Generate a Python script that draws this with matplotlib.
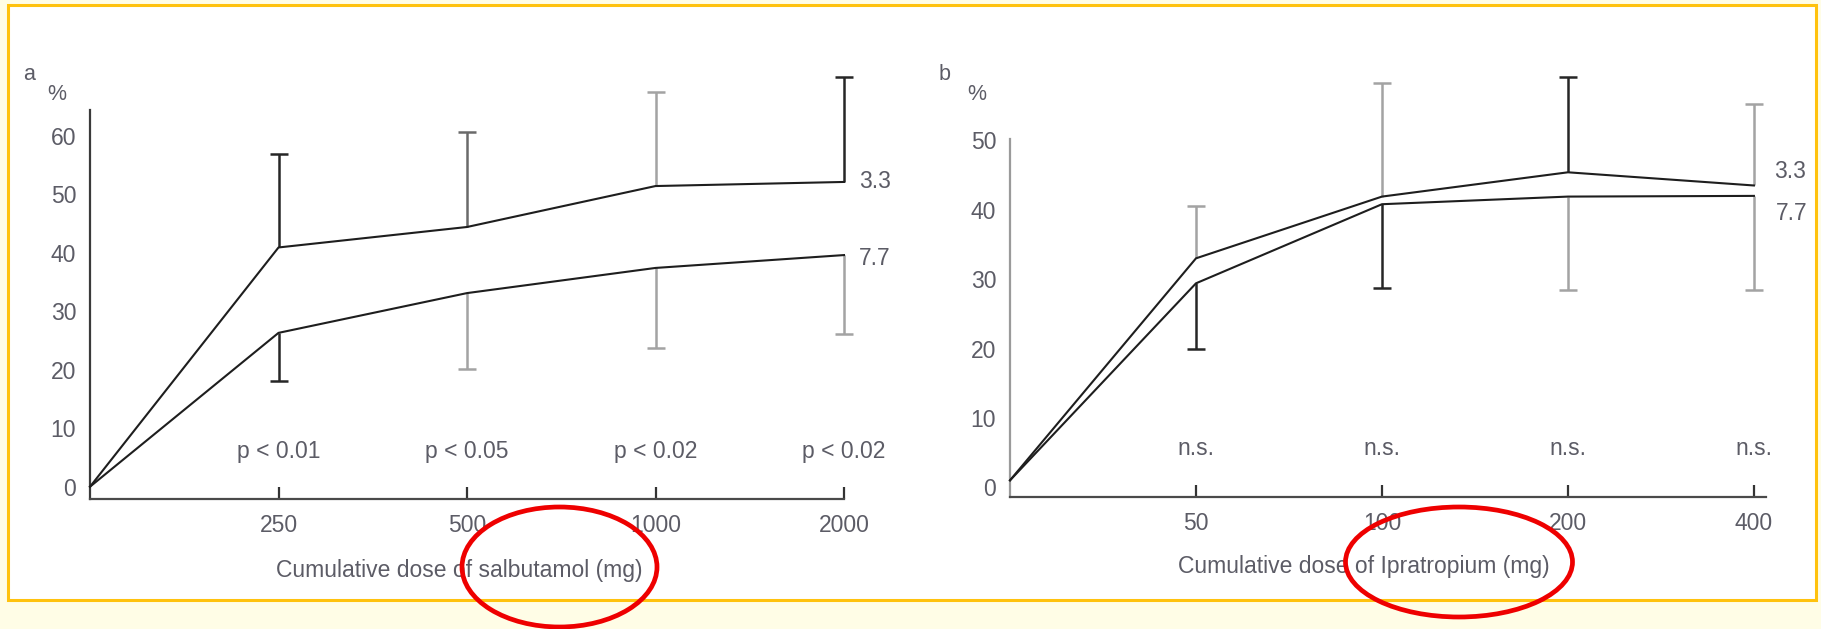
import matplotlib
matplotlib.use("Agg")
import matplotlib.pyplot as plt
from matplotlib.patches import Rectangle, Ellipse

# ---------------- data ----------------
a_dose_labels = ["250", "500", "1000", "2000"]
a_upper = [0.0, 40.9, 44.4, 51.4, 52.1]          # series "3.3"
a_upper_sd = [15.9, 16.3, 16.0, 17.9]
a_lower = [0.0, 26.3, 33.1, 37.4, 39.6]          # series "7.7"
a_lower_sd = [8.3, 13.0, 13.7, 13.5]
a_pvalues = ["p < 0.01", "p < 0.05", "p < 0.02", "p < 0.02"]
a_yticks = [0, 10, 20, 30, 40, 50, 60]

b_dose_labels = ["50", "100", "200", "400"]
b_upper = [1.0, 33.0, 41.9, 45.4, 43.5]          # series "3.3"
b_upper_sd = [7.6, 16.4, 13.7, 11.8]
b_lower = [1.0, 29.4, 40.8, 41.9, 42.0]          # series "7.7"
b_lower_sd = [9.4, 12.1, 13.5, 13.6]
b_pvalues = ["n.s.", "n.s.", "n.s.", "n.s."]
b_yticks = [0, 10, 20, 30, 40, 50]

series_names = ["3.3", "7.7"]

# error bar shades (as in the figure)
DARK = "#262626"
MID = "#6a6a6a"
LIGHT = "#a3a3a3"
a_upper_colors = [DARK, MID, LIGHT, DARK]
a_lower_colors = [DARK, LIGHT, LIGHT, LIGHT]
b_upper_colors = [LIGHT, LIGHT, DARK, LIGHT]
b_lower_colors = [DARK, DARK, LIGHT, LIGHT]

# ---------------- figure ----------------
W, H = 1821, 629
fig = plt.figure(figsize=(W / 100, H / 100), dpi=100)
fig.patch.set_facecolor("#FFFDE6")

plt.rcParams["font.family"] = ["Liberation Sans", "DejaVu Sans"]
TXT = "#5c5c66"
FS = 16.5

# white box with orange border
fig.add_artist(Rectangle((8 / W, 1 - 600 / H), (1816 - 8) / W, (600 - 5) / H,
                         transform=fig.transFigure, facecolor="white",
                         edgecolor="#FFC20E", linewidth=2.2, zorder=-1))


def px2fig(x, y):
    return x / W, 1 - y / H


def make_panel(rect, ylim, xright, yticks, labels, upper, upper_sd, lower, lower_sd,
               up_cols, lo_cols, pvals, pval_y, name_pos, yspine_color):
    left, top, right, bottom = rect
    ax = fig.add_axes([left / W, 1 - bottom / H, (right - left) / W, (bottom - top) / H])
    ax.set_facecolor("none")
    x = list(range(len(upper)))
    ax.set_xlim(0, xright)
    ax.set_ylim(*ylim)
    for s in ["top", "right"]:
        ax.spines[s].set_visible(False)
    ax.spines["left"].set_color(yspine_color)
    ax.spines["left"].set_linewidth(1.6)
    ax.spines["bottom"].set_color("#4a4a4a")
    ax.spines["bottom"].set_linewidth(1.6)

    # error bars: stem from the mean, cap only at the far end
    for i in range(1, len(x)):
        top_end = upper[i] + upper_sd[i - 1]
        bot_end = lower[i] - lower_sd[i - 1]
        c1, c2 = up_cols[i - 1], lo_cols[i - 1]
        ax.vlines(x[i], upper[i], top_end, colors=c1, lw=1.8, clip_on=False, zorder=2)
        ax.plot([x[i]], [top_end], marker="_", ms=13, mew=1.8, color=c1,
                clip_on=False, zorder=2)
        ax.vlines(x[i], bot_end, lower[i], colors=c2, lw=1.8, clip_on=False, zorder=2)
        ax.plot([x[i]], [bot_end], marker="_", ms=13, mew=1.8, color=c2,
                clip_on=False, zorder=2)
    # lines
    ax.plot(x, upper, color="#1e1e1e", lw=1.5, clip_on=False, zorder=3)
    ax.plot(x, lower, color="#1e1e1e", lw=1.5, clip_on=False, zorder=3)

    ax.set_xticks(x[1:])
    ax.set_xticklabels(labels)
    ax.tick_params(axis="x", direction="in", length=8.5, width=1.6, color="#333333",
                   pad=11, labelsize=FS, labelcolor=TXT)
    ax.set_yticks(yticks)
    ax.tick_params(axis="y", length=0, pad=10, labelsize=FS, labelcolor=TXT)

    for i, t in enumerate(pvals):
        ax.text(x[i + 1], pval_y, t, ha="center", va="center", fontsize=FS, color=TXT)
    for (xx, yy), nm in zip(name_pos, series_names):
        ax.text(xx, yy, nm, ha="left", va="center", fontsize=FS, color=TXT)
    return ax


make_panel((90, 110, 844, 499), (-2.1, 64.4), 4.0, a_yticks, a_dose_labels,
           a_upper, a_upper_sd, a_lower, a_lower_sd, a_upper_colors, a_lower_colors,
           a_pvalues, 6.0, [(4.08, 52.2), (4.08, 39.0)], "#3a3a3a")
make_panel((1010, 139, 1766, 497), (-1.4, 50.2), 4.065, b_yticks, b_dose_labels,
           b_upper, b_upper_sd, b_lower, b_lower_sd, b_upper_colors, b_lower_colors,
           b_pvalues, 5.6, [(4.11, 45.5), (4.12, 39.4)], "#9a9a9a")

# panel letters and % labels
for (px, py, t) in [(29, 74, "a"), (57, 95, "%"), (945, 74, "b"), (977, 95, "%")]:
    fx, fy = px2fig(px, py)
    fig.text(fx, fy, t, ha="center", va="center", fontsize=FS - 1, color=TXT)

# x-axis titles
fx, fy = px2fig(459, 570)
fig.text(fx, fy, "Cumulative dose of salbutamol (mg)", ha="center", va="center",
         fontsize=FS, color=TXT)
fx, fy = px2fig(1364, 566)
fig.text(fx, fy, "Cumulative dose of Ipratropium (mg)", ha="center", va="center",
         fontsize=FS, color=TXT)

# red highlight ellipses
for (cx, cy, w, h) in [(559.5, 567, 195, 120), (1459, 562, 227, 110)]:
    fx, fy = px2fig(cx, cy)
    fig.add_artist(Ellipse((fx, fy), w / W, h / H, transform=fig.transFigure,
                           fill=False, edgecolor="#EE0000", linewidth=3.4, zorder=10))

fig.savefig("out.png", dpi=100, facecolor=fig.get_facecolor())
